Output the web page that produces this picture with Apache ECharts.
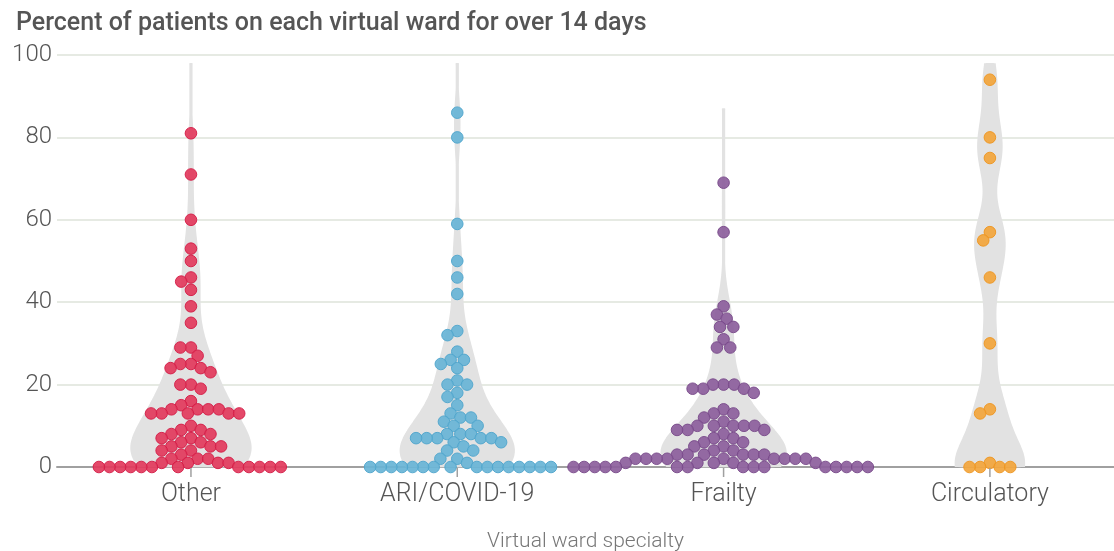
<!DOCTYPE html>
<html>
<head>
<meta charset="utf-8">
<script src="https://cdn.jsdelivr.net/npm/echarts@6/dist/echarts.min.js"></script>
<style>
  html, body { margin: 0; padding: 0; background: #fff; }
  #main { width: 1114px; height: 551px; }
</style>
</head>
<body>
<div id="main"></div>
<script>
// categories + values (percent of patients > 14 days)
var categories = ['Other', 'ARI/COVID-19', 'Frailty', 'Circulatory'];
var colors = ['#e23a5c', '#68b4d6', '#8c5e9c', '#f2a53c'];
var borders = ['#d41c47', '#4fa5cc', '#784a8a', '#ee951f'];

var otherVals = [81, 71, 60, 53, 50, 46, 45, 43, 39, 35, 29, 29, 27, 25, 25, 24, 24, 23, 20, 20, 19, 16, 15,
  14, 14, 14, 14, 13, 13, 13, 13, 13, 10, 9, 9, 8, 8, 7, 7, 6, 6, 5, 5, 5, 4, 4, 3, 2, 2, 2, 1, 1, 1, 1,
  0, 0, 0, 0, 0, 0, 0, 0, 0, 0, 0, 0];
var ariVals = [86, 80, 59, 50, 46, 42, 33, 32, 28, 26, 26, 25, 24, 21, 20, 20, 18, 17, 15, 13, 12, 12, 11, 10, 10,
  8, 8, 8, 7, 7, 7, 7, 7, 6, 6, 5, 4, 4, 2, 2, 1,
  0, 0, 0, 0, 0, 0, 0, 0, 0, 0, 0, 0, 0, 0, 0, 0];
var frailtyVals = [69, 57, 39, 37, 36, 34, 34, 31, 29, 29, 20, 20, 20, 19, 19, 19, 18, 14, 13, 13, 12, 11,
  10, 10, 10, 10, 10, 9, 9, 9, 8, 7, 7, 6, 6, 5, 5, 4, 4, 3, 3, 3, 3, 3, 3,
  2, 2, 2, 2, 2, 2, 2, 2, 2, 1, 1, 1, 1, 1,
  0, 0, 0, 0, 0, 0, 0, 0, 0, 0, 0, 0, 0, 0, 0];
var circVals = [94, 80, 75, 57, 55, 46, 30, 14, 13, 1, 0, 0, 0, 0];
var catPos = [0, 1, 2, 3];

var allVals = [otherVals, ariVals, frailtyVals, circVals];

var chart = echarts.init(document.getElementById('main'));

var X_MIN = -0.503, X_MAX = 3.466;
var R = 5.8;      // dot radius px
var GAP = 10.6;   // min distance between dot centres px
var BW = 6.5;     // kde bandwidth (percent units)
var FONT = 'Roboto';

chart.setOption({
  animation: false,
  title: {
    text: 'Percent of patients on each virtual ward for over 14 days',
    left: 11, top: 6,
    textStyle: { fontFamily: FONT, fontWeight: 500, fontSize: 25, color: '#555' }
  },
  grid: { left: 57, right: 0, top: 55, bottom: 84, containLabel: false, outerBoundsMode: 'none' },
  xAxis: {
    type: 'value', min: X_MIN, max: X_MAX,
    axisLine: { show: true, onZero: false, lineStyle: { color: '#a0a0a0', width: 2 } },
    splitLine: { show: false },
    axisTick: { show: false },
    axisLabel: {
      customValues: catPos, fontFamily: FONT, fontWeight: 300, fontSize: 25, color: '#555', margin: 15,
      formatter: function (v) { return categories[Math.round(v)]; }
    },
    name: 'Virtual ward specialty', nameLocation: 'middle', nameGap: 64,
    nameTextStyle: { fontFamily: FONT, fontWeight: 300, fontSize: 21, color: '#777' }
  },
  yAxis: {
    type: 'value', min: 0, max: 100, interval: 20,
    axisLine: { show: false }, axisTick: { show: false },
    axisLabel: { fontFamily: FONT, fontWeight: 300, fontSize: 24, color: '#555', margin: 5 },
    splitLine: { lineStyle: { color: '#e6eae3', width: 2 } }
  },
  series: []
});

// pixel helpers
var pxPerUnitY = chart.convertToPixel({ yAxisIndex: 0 }, 0) - chart.convertToPixel({ yAxisIndex: 0 }, 1);
var pxPerUnitX = chart.convertToPixel({ xAxisIndex: 0 }, 1) - chart.convertToPixel({ xAxisIndex: 0 }, 0);

// greedy beeswarm: each dot as close to the centre line as it can get
function swarm(vals) {
  var placed = [];
  vals.forEach(function (v) {
    var y = v * pxPerUnitY;
    var cands = [0];
    placed.forEach(function (p) {
      var dy = Math.abs(p.y - y);
      if (dy < GAP) {
        var dx = Math.sqrt(GAP * GAP - dy * dy);
        cands.push(p.x + dx, p.x - dx);
      }
    });
    cands.sort(function (a, b) { return Math.abs(a) - Math.abs(b) || a - b; });
    var best = 0;
    for (var i = 0; i < cands.length; i++) {
      var c = cands[i], ok = true;
      for (var j = 0; j < placed.length; j++) {
        var ddx = placed[j].x - c, ddy = placed[j].y - y;
        if (ddx * ddx + ddy * ddy < GAP * GAP - 0.01) { ok = false; break; }
      }
      if (ok) { best = c; break; }
    }
    placed.push({ x: best, y: y, v: v });
  });
  return placed;
}

// gaussian kde, widest point = halfW px, thin tail kept up to the top
function violin(vals, halfW) {
  var pts = [];
  var top = Math.min(98, Math.max.apply(null, vals) + 18);
  for (var t = 0; t <= top + 0.001; t += 0.5) {
    var d = 0;
    vals.forEach(function (v) {
      var u = (t - v) / BW;
      d += Math.exp(-0.5 * u * u);
    });
    pts.push([t, d]);
  }
  var mx = Math.max.apply(null, pts.map(function (p) { return p[1]; }));
  return pts.map(function (p) { return [p[0], Math.max(1.6, p[1] / mx * halfW)]; });
}

var series = [];

// little ticks under the baseline at each category (drawn over the dots)
series.push({
  type: 'custom', silent: true, clip: false, z: 5,
  encode: { x: 0, y: 1 },
  data: catPos.map(function (c) { return [c, 0]; }),
  renderItem: function (params, api) {
    var p = api.coord([api.value(0), api.value(1)]);
    return {
      type: 'line',
      shape: { x1: p[0], y1: p[1] + 1, x2: p[0], y2: p[1] + 10 },
      style: { stroke: '#a0a0a0', lineWidth: 1.5 }
    };
  }
});

allVals.forEach(function (vals, ci) {
  var halfW = 14 * Math.pow(vals.length, 0.35);
  var shape = violin(vals, halfW);
  series.push({
    type: 'custom', silent: true, z: 1,
    data: [ci],
    renderItem: function (params, api) {
      var cx = api.coord([ci, 0])[0];
      var right = shape.map(function (p) { return [cx + p[1], api.coord([0, p[0]])[1]]; });
      var left = shape.slice().reverse().map(function (p) { return [cx - p[1], api.coord([0, p[0]])[1]]; });
      return {
        type: 'polygon',
        shape: { points: right.concat(left), smooth: 0.2 },
        style: { fill: '#e2e2e2' }
      };
    }
  });
  var dots = swarm(vals);
  series.push({
    type: 'scatter', z: 3,
    symbolSize: R * 2,
    itemStyle: { color: colors[ci], borderColor: borders[ci], borderWidth: 1, opacity: 0.92 },
    data: dots.map(function (d) { return [ci + d.x / pxPerUnitX, d.v]; })
  });
});

chart.setOption({ series: series });
</script>
</body>
</html>
